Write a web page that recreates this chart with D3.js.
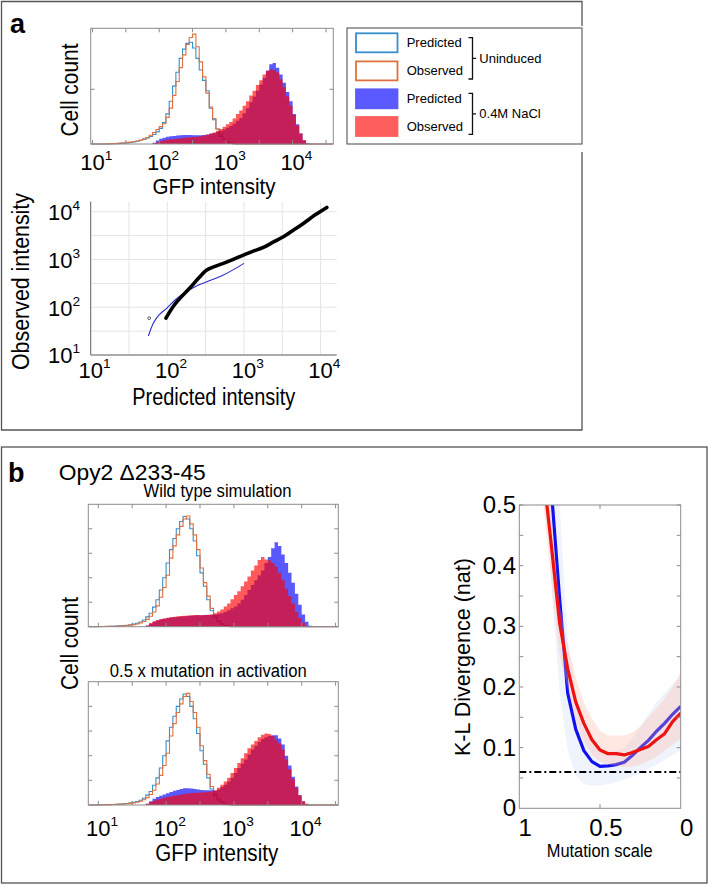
<!DOCTYPE html>
<html><head><meta charset="utf-8">
<script src="https://cdn.jsdelivr.net/npm/d3@7/dist/d3.min.js"></script>
<style>
body{margin:0;background:#fff}
svg{display:block}
text{font-family:"Liberation Sans",Arial,Helvetica,sans-serif;fill:#000}
</style></head>
<body><svg id="c" width="709" height="886"></svg>
<script>
// ---------------- DATA ----------------
const BIN = 0.05; // histogram bin width in log10 units
// Panel a histogram (relative cell count per bin, bins start at given log10 value)
const aUnindPredStart = 1.30;
const aUnindPred = [0.002,0.003,0.005,0.007,0.010,0.013,0.018,0.024,0.032,0.042,0.052,0.065,0.082,0.105,0.135,0.185,0.26,0.37,0.50,0.62,0.74,0.82,0.87,0.88,0.83,0.74,0.64,0.55,0.46,0.31,0.21,0.13,0.065,0.035,0.018,0.008,0.003];
const aUnindObsStart = 1.20;
const aUnindObs = [0.002,0.003,0.004,0.006,0.008,0.011,0.014,0.017,0.021,0.026,0.032,0.042,0.055,0.075,0.10,0.125,0.15,0.175,0.23,0.31,0.42,0.54,0.66,0.77,0.86,0.92,0.95,0.84,0.71,0.58,0.44,0.32,0.22,0.13,0.08,0.04,0.02,0.008,0.003];
const aNaClPredStart = 1.90;
const aNaClPred = [0.01,0.03,0.045,0.055,0.062,0.067,0.07,0.073,0.076,0.078,0.078,0.078,0.076,0.075,0.076,0.078,0.082,0.088,0.095,0.103,0.112,0.125,0.14,0.155,0.175,0.20,0.225,0.265,0.31,0.36,0.41,0.46,0.515,0.57,0.635,0.69,0.70,0.66,0.60,0.53,0.45,0.37,0.26,0.17,0.09,0.03,0.005];
const aNaClObsStart = 1.90;
const aNaClObs = [0.005,0.015,0.025,0.032,0.037,0.04,0.043,0.046,0.05,0.053,0.056,0.058,0.06,0.063,0.067,0.073,0.08,0.09,0.10,0.115,0.13,0.15,0.17,0.19,0.22,0.26,0.29,0.33,0.37,0.42,0.46,0.51,0.55,0.60,0.63,0.645,0.64,0.62,0.56,0.49,0.41,0.33,0.25,0.16,0.09,0.035,0.005];

// Panel a quantile plot
const qqNaClPred = [96,115,139,198,260,327,420,538,700,982,1300,1790,2400,3266,4400,5956,8500,12060];
const qqNaClObs  = [59,95,141,256,420,600,720,828,980,1236,1480,1790,2300,2985,4100,5690,8600,12300];
const qqUnindPred = [56.5,65.6,80,98,125,162,230,327,538,1000];
const qqUnindObs  = [25,46,72,95,140,195,270,341,472,828];
const qqOutlier = [58,59];

// Panel b histograms
const bUnindObsStart = 1.00;
const bUnindObs = [0.002,0.002,0.003,0.003,0.004,0.005,0.006,0.008,0.01,0.013,0.017,0.022,0.03,0.042,0.06,0.085,0.12,0.17,0.24,0.32,0.42,0.56,0.66,0.75,0.82,0.88,0.905,0.84,0.75,0.63,0.48,0.36,0.25,0.15,0.09,0.05,0.025,0.01,0.004];
const bUnindPredStart = 1.00;
const bUnindPred = [0.001,0.002,0.002,0.003,0.004,0.005,0.007,0.009,0.012,0.016,0.021,0.028,0.038,0.055,0.08,0.11,0.16,0.22,0.30,0.40,0.52,0.63,0.72,0.80,0.86,0.90,0.88,0.80,0.70,0.58,0.44,0.33,0.22,0.13,0.075,0.04,0.02,0.008,0.003];
const wtNaClPredStart = 1.70;
const wtNaClPred = [0.01,0.025,0.04,0.05,0.058,0.065,0.07,0.075,0.078,0.08,0.083,0.085,0.088,0.09,0.092,0.093,0.094,0.095,0.096,0.098,0.10,0.105,0.11,0.12,0.135,0.15,0.165,0.19,0.22,0.26,0.30,0.34,0.38,0.42,0.46,0.52,0.57,0.64,0.69,0.66,0.59,0.52,0.44,0.36,0.27,0.18,0.10,0.04,0.008];
const wtNaClObsStart = 1.70;
const wtNaClObs = [0.01,0.03,0.045,0.055,0.062,0.068,0.073,0.078,0.082,0.085,0.088,0.09,0.092,0.094,0.095,0.095,0.094,0.095,0.097,0.10,0.11,0.125,0.14,0.165,0.19,0.225,0.26,0.29,0.33,0.37,0.41,0.46,0.50,0.545,0.57,0.55,0.54,0.52,0.49,0.44,0.38,0.31,0.25,0.19,0.12,0.07,0.03,0.005];
const mutNaClPredStart = 1.70;
const mutNaClPred = [0.01,0.03,0.05,0.065,0.075,0.085,0.095,0.105,0.115,0.122,0.13,0.135,0.136,0.134,0.13,0.126,0.122,0.12,0.12,0.12,0.115,0.125,0.145,0.165,0.19,0.22,0.26,0.30,0.335,0.37,0.41,0.45,0.48,0.51,0.535,0.55,0.56,0.565,0.565,0.54,0.49,0.40,0.32,0.23,0.15,0.08,0.03,0.005];
const mutNaClObsStart = 1.70;
const mutNaClObs = [0.01,0.025,0.035,0.045,0.052,0.058,0.064,0.07,0.075,0.08,0.085,0.09,0.094,0.097,0.10,0.10,0.102,0.104,0.107,0.11,0.12,0.14,0.165,0.19,0.22,0.26,0.30,0.34,0.38,0.42,0.46,0.49,0.52,0.55,0.57,0.58,0.575,0.56,0.53,0.50,0.45,0.37,0.29,0.21,0.14,0.08,0.03,0.01];

// Panel b K-L divergence vs mutation scale
const mutScale = [0.85,0.8,0.75,0.7,0.65,0.6,0.55,0.5,0.45,0.4,0.35,0.3,0.25,0.2,0.15,0.1,0.05,0];
const klPred   = [0.72,0.52,0.345,0.19,0.13,0.095,0.077,0.069,0.070,0.072,0.076,0.087,0.100,0.112,0.127,0.140,0.155,0.168];
const klObs    = [0.55,0.43,0.305,0.23,0.175,0.14,0.113,0.096,0.09,0.09,0.088,0.092,0.097,0.102,0.113,0.123,0.143,0.157];
const klPredLo = [0.62,0.36,0.19,0.095,0.055,0.04,0.037,0.038,0.04,0.043,0.047,0.052,0.058,0.065,0.072,0.08,0.088,0.095];
const klPredHi = [0.9,0.7,0.5,0.28,0.19,0.14,0.115,0.1,0.095,0.095,0.1,0.115,0.135,0.155,0.175,0.19,0.205,0.215];
const klObsLo  = [0.5,0.37,0.25,0.2,0.145,0.11,0.088,0.077,0.072,0.07,0.068,0.069,0.072,0.078,0.085,0.095,0.105,0.115];
const klObsHi  = [0.63,0.48,0.335,0.27,0.215,0.175,0.148,0.128,0.12,0.12,0.12,0.125,0.135,0.15,0.165,0.18,0.2,0.225];
const klBaseline = 0.06;
const klTicks = [0,0.1,0.2,0.3,0.4,0.5];
const mutTicks = [1,0.5,0];

const decadeExps = [1,2,3,4];
const legendLabels = ["Predicted","Observed","Predicted","Observed"];
const legendGroups = ["Uninduced","0.4M NaCl"];

// ---------------- STYLE ----------------
const C = {
  predLine:"#3790cc", obsLine:"#e07040",
  predFill:"#0000ff", obsFill:"#ff0000", fillOp:0.65,
  frame:"#8c8c8c", panel:"#555"
};
const svg = d3.select("#c");

function addText(g,x,y,str,o={}){
  const t=g.append("text").attr("x",x).attr("y",y).attr("font-size",o.size||14)
    .attr("text-anchor",o.anchor||"start").attr("font-weight",o.weight||"normal").text(str);
  if(o.rotate) t.attr("transform",`rotate(${o.rotate},${x},${y})`);
  if(o.len) t.attr("textLength",o.len).attr("lengthAdjust","spacingAndGlyphs");
  return t;
}
function powLabel(g,x,y,exp,size,mode){
  const t=g.append("text").attr("y",y).attr("font-size",size);
  t.append("tspan").text("10");
  t.append("tspan").attr("font-size",size*0.62).attr("dy",-size*0.45).text(exp);
  if(mode==="end") t.attr("x",x).attr("text-anchor","end");
  else t.attr("x",x-size*0.556).attr("text-anchor","start");
}
let clipId=0;
function clipRect(x0,y0,x1,y1){
  const id="clp"+(clipId++);
  svg.append("clipPath").attr("id",id).append("rect").attr("x",x0).attr("y",y0).attr("width",x1-x0).attr("height",y1-y0);
  return `url(#${id})`;
}
function stairs(x,y,start,vals){
  const e=i=>x(Math.pow(10,start+i*BIN));
  let d=`M${e(0)},${y(0)}`;
  vals.forEach((v,i)=>{ d+=`V${y(v)}H${e(i+1)}`; });
  return d+`V${y(0)}`;
}

function histPanel(p){
  const x=d3.scaleLog().domain([Math.pow(10,p.logMin),Math.pow(10,p.logMax)]).range([p.x0,p.x1]);
  const y=d3.scaleLinear().domain([0,1]).range([p.y1,p.y0]);
  const g=svg.append("g");
  const cg=g.append("g").attr("clip-path",clipRect(p.x0,p.y0,p.x1,p.y1+1));
  // outlines (uninduced)
  [[p.uPredStart,p.uPred,C.predLine],[p.uObsStart,p.uObs,C.obsLine]].forEach(([s,v,col])=>{
    cg.append("path").attr("d",`M${p.x0},${y(0)}H${x(Math.pow(10,s))}`+stairs(x,y,s,v).replace(/^M[^V]*/,"")+`H${p.x1}`)
      .attr("fill","none").attr("stroke",col).attr("stroke-width",1.1);
  });
  // filled (induced)
  [[p.iPredStart,p.iPred,C.predFill],[p.iObsStart,p.iObs,C.obsFill]].forEach(([s,v,col])=>{
    cg.append("path").attr("d",stairs(x,y,s,v)+"Z").attr("fill",col).attr("fill-opacity",C.fillOp).attr("stroke","none");
  });
  // frame
  g.append("rect").attr("x",p.x0).attr("y",p.y0).attr("width",p.x1-p.x0).attr("height",p.y1-p.y0)
    .attr("fill","none").attr("stroke",C.frame).attr("stroke-width",1);
  p.yTicks.forEach(v=>{
    g.append("line").attr("x1",p.x0).attr("x2",p.x0+4).attr("y1",y(v)).attr("y2",y(v)).attr("stroke",C.frame);
    g.append("line").attr("x1",p.x1).attr("x2",p.x1-4).attr("y1",y(v)).attr("y2",y(v)).attr("stroke",C.frame);
  });
  for(let k=1;k<=4.5;k+=0.5){
    const xv=x(Math.pow(10,k)); if(xv<=p.x0||xv>=p.x1) continue;
    g.append("line").attr("x1",xv).attr("x2",xv).attr("y1",p.y0).attr("y2",p.y0+4).attr("stroke",C.frame);
    g.append("line").attr("x1",xv).attr("x2",xv).attr("y1",p.y1).attr("y2",p.y1-4).attr("stroke",C.frame);
  }
  if(p.labelY){
    decadeExps.forEach(k=>powLabel(svg,x(Math.pow(10,k)),p.labelY,k,22));
  }
  return x;
}

// ---------------- PANEL FRAMES ----------------
svg.append("path").attr("d","M582,152V430H1.5V1.5H582V26").attr("fill","none").attr("stroke",C.panel).attr("stroke-width",1.3);
svg.append("rect").attr("x",1.5).attr("y",447).attr("width",705.5).attr("height",436).attr("fill","none").attr("stroke",C.panel).attr("stroke-width",1.3);
addText(svg,10,33,"a",{size:27,weight:"bold"});
addText(svg,8,482,"b",{size:27,weight:"bold"});

// ---------------- PANEL a: histogram ----------------
histPanel({x0:90.7,x1:333.3,y0:28.3,y1:144,logMin:0.973,logMax:4.61,yTicks:[0.473],labelY:169.5,
  uPredStart:aUnindPredStart,uPred:aUnindPred,uObsStart:aUnindObsStart,uObs:aUnindObs,
  iPredStart:aNaClPredStart,iPred:aNaClPred,iObsStart:aNaClObsStart,iObs:aNaClObs});
addText(svg,78,90,"Cell count",{size:23,anchor:"middle",rotate:-90,len:93});
addText(svg,214,194,"GFP intensity",{size:22,anchor:"middle",len:123});

// legend
(function(){
  const g=svg.append("g");
  g.append("rect").attr("x",347).attr("y",28).attr("width",235).attr("height",116).attr("fill","#fff").attr("stroke","#444").attr("stroke-width",1);
  const ys=[32.3,60.4,88.3,116];
  const sw=[{f:"#fff",s:C.predLine},{f:"#fff",s:C.obsLine},{f:"#5a5aff",s:"#5a5aff"},{f:"#ff5e5e",s:"#ff5e5e"}];
  ys.forEach((yy,i)=>{
    g.append("rect").attr("x",356).attr("y",yy+1).attr("width",41.5).attr("height",19).attr("fill",sw[i].f).attr("stroke",sw[i].s).attr("stroke-width",1.8);
    addText(g,406.7,yy+15,legendLabels[i],{size:13});
  });
  [[37.7,79],[93.3,134.3]].forEach(([a,b],i)=>{
    const m=(a+b)/2;
    g.append("path").attr("d",`M468.5,${a}H472.5V${b}H468.5M472.5,${m}H476`).attr("fill","none").attr("stroke","#111").attr("stroke-width",1.3);
    addText(g,479.3,m+4.5,legendGroups[i],{size:13});
  });
})();

// ---------------- PANEL a: quantile plot ----------------
(function(){
  const x=d3.scaleLog().domain([10,Math.pow(10,4.21)]).range([90.7,336.7]);
  const y=d3.scaleLog().domain([10,Math.pow(10,4.21)]).range([355,201.7]);
  const g=svg.append("g");
  for(let k=1;k<=4.21;k+=0.5){
    const v=Math.pow(10,k);
    g.append("line").attr("x1",x(v)).attr("x2",x(v)).attr("y1",201.7).attr("y2",355).attr("stroke","#e4e4e4");
    g.append("line").attr("x1",90.7).attr("x2",336.7).attr("y1",y(v)).attr("y2",y(v)).attr("stroke","#e4e4e4");
  }
  g.append("path").attr("d","M90.7,201.7V355H336.7").attr("fill","none").attr("stroke","#666").attr("stroke-width",1);
  const line=d3.line().x(d=>x(d[0])).y(d=>y(d[1])).curve(d3.curveMonotoneX);
  g.append("path").attr("d",line(d3.zip(qqUnindPred,qqUnindObs))).attr("fill","none").attr("stroke","#2a2ad0").attr("stroke-width",1.1);
  g.append("path").attr("d",line(d3.zip(qqNaClPred,qqNaClObs))).attr("fill","none").attr("stroke","#000").attr("stroke-width",3.6).attr("stroke-linecap","round");
  g.append("circle").attr("cx",x(qqOutlier[0])).attr("cy",y(qqOutlier[1])).attr("r",1.4).attr("fill","none").attr("stroke","#333").attr("stroke-width",0.8);
  decadeExps.forEach(k=>powLabel(svg,x(Math.pow(10,k)),378.3,k,22));
  decadeExps.forEach(k=>powLabel(svg,80,y(Math.pow(10,k))+8.3,k,22,"end"));
  addText(svg,29,281.5,"Observed intensity",{size:23,anchor:"middle",rotate:-90,len:177});
  addText(svg,213.7,405,"Predicted intensity",{size:23,anchor:"middle",len:163});
})();

// ---------------- PANEL b ----------------
addText(svg,58.8,480,"Opy2 \u0394233-45",{size:22,len:147});
addText(svg,217.5,496.7,"Wild type simulation",{size:18,anchor:"middle",len:148});
histPanel({x0:88.3,x1:338.3,y0:504.3,y1:626.7,logMin:0.8525,logMax:4.54,yTicks:[0.2,0.4,0.6,0.8],labelY:null,
  uPredStart:bUnindPredStart,uPred:bUnindPred,uObsStart:bUnindObsStart,uObs:bUnindObs,
  iPredStart:wtNaClPredStart,iPred:wtNaClPred,iObsStart:wtNaClObsStart,iObs:wtNaClObs});
addText(svg,208.3,677.3,"0.5 x mutation in activation",{size:18,anchor:"middle",len:197});
histPanel({x0:88.3,x1:338.3,y0:681.7,y1:805,logMin:0.8525,logMax:4.54,yTicks:[0.2,0.4,0.6,0.8],labelY:835.7,
  uPredStart:bUnindPredStart,uPred:bUnindPred,uObsStart:bUnindObsStart,uObs:bUnindObs,
  iPredStart:mutNaClPredStart,iPred:mutNaClPred,iObsStart:mutNaClObsStart,iObs:mutNaClObs});
addText(svg,78,643.5,"Cell count",{size:23,anchor:"middle",rotate:-90,len:93});
addText(svg,216.7,861,"GFP intensity",{size:23,anchor:"middle",len:123});

// K-L panel
(function(){
  const x0=519.3,x1=680.7,y0=505,y1=808.3;
  const x=d3.scaleLinear().domain([1,0]).range([x0,x1]);
  const y=d3.scaleLinear().domain([0,0.5]).range([y1,y0]);
  const g=svg.append("g");
  const cg=g.append("g").attr("clip-path",clipRect(x0,y0,x1,y1));
  const line=d3.line().x(d=>x(d[0])).y(d=>y(d[1]));
  const area=d3.area().x(d=>x(d[0])).y0(d=>y(d[1])).y1(d=>y(d[2]));
  cg.append("path").attr("d",area(d3.zip(mutScale,klPredLo,klPredHi))).attr("fill","rgb(175,200,240)").attr("fill-opacity",0.2);
  cg.append("path").attr("d",line(d3.zip(mutScale,klPred))).attr("fill","none").attr("stroke","#1212ee").attr("stroke-width",3.2).attr("stroke-linejoin","round");
  cg.append("path").attr("d",area(d3.zip(mutScale,klObsLo,klObsHi))).attr("fill","rgb(255,180,160)").attr("fill-opacity",0.3);
  cg.append("path").attr("d",line(d3.zip(mutScale,klObs))).attr("fill","none").attr("stroke","#ee1212").attr("stroke-width",3.2).attr("stroke-linejoin","round");
  cg.append("line").attr("x1",x0).attr("x2",x1).attr("y1",y(klBaseline)).attr("y2",y(klBaseline))
    .attr("stroke","#000").attr("stroke-width",2).attr("stroke-dasharray","7,3,2,3");
  g.append("rect").attr("x",x0).attr("y",y0).attr("width",x1-x0).attr("height",y1-y0).attr("fill","none").attr("stroke",C.frame);
  for(let v=0.05;v<0.5;v+=0.05){
    g.append("line").attr("x1",x0).attr("x2",x0+4).attr("y1",y(v)).attr("y2",y(v)).attr("stroke",C.frame);
    g.append("line").attr("x1",x1).attr("x2",x1-4).attr("y1",y(v)).attr("y2",y(v)).attr("stroke",C.frame);
  }
  g.append("line").attr("x1",x(0.5)).attr("x2",x(0.5)).attr("y1",y1).attr("y2",y1-4).attr("stroke",C.frame);
  g.append("line").attr("x1",x(0.5)).attr("x2",x(0.5)).attr("y1",y0).attr("y2",y0+4).attr("stroke",C.frame);
  klTicks.forEach(v=>addText(svg,516,y(v)+8,v===0?"0":String(v),{size:24,anchor:"end"}));
  mutTicks.forEach(v=>addText(svg,x(v)+6,836,String(v),{size:24,anchor:"middle"}));
  addText(svg,599.7,856.7,"Mutation scale",{size:18,anchor:"middle",len:106});
  addText(svg,470,657,"K-L Divergence (nat)",{size:22.5,anchor:"middle",rotate:-90,len:198});
})();
</script></body></html>
